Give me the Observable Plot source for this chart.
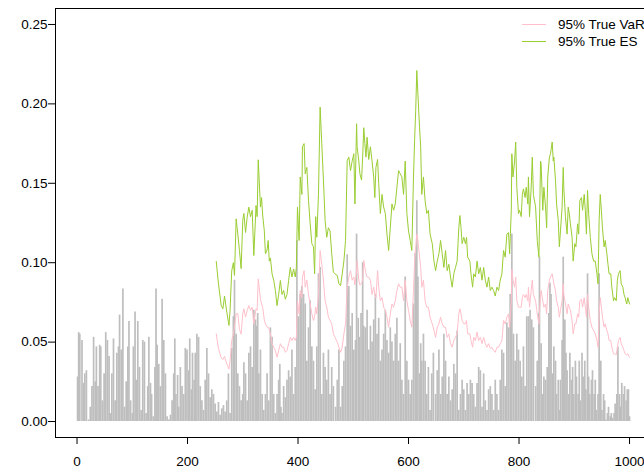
<!DOCTYPE html>
<html><head><meta charset="utf-8">
<script src="https://cdn.jsdelivr.net/npm/d3@7"></script>
<script src="https://cdn.jsdelivr.net/npm/@observablehq/plot@0.6"></script>
<style>html,body{margin:0;padding:0;background:#fff;overflow:hidden} svg{display:block;overflow:hidden}</style>
</head><body><div id="chart"></div>
<script>
// time index of each plotted loss (absolute return)
const lossIndex = [1,3,5,9,12,14,17,21,24,27,30,33,35,38,41,43,46,49,52,55,58,60,63,66,69,72,75,77,80,83,86,89,92,94,97,100,102,105,107,110,113,116,119,122,125,128,130,133,135,138,141,143,145,148,
151,154,157,160,163,166,169,172,175,177,179,182,184,187,190,193,196,199,202,204,207,209,212,214,217,220,223,226,229,232,235,238,241,244,247,250,253,256,259,262,265,268,271,274,277,280,283,285,288,291,294,297,300,302,305,308,311,314,317,320,
323,325,327,329,332,335,338,341,344,347,350,353,356,359,362,365,367,369,371,374,377,380,383,386,389,392,395,398,401,404,407,410,413,416,419,422,425,428,431,434,437,440,443,446,449,452,455,458,461,464,468,471,474,477,480,483,486,489,492,
495,498,501,504,506,509,511,514,517,519,522,525,528,531,534,537,540,543,546,549,552,555,558,561,564,567,570,573,576,579,582,585,588,591,594,597,600,603,606,609,612,615,617,620,622,624,627,630,633,636,639,642,645,649,652,655,658,661,664,
667,670,673,676,679,682,685,688,691,694,697,700,703,706,709,712,715,718,721,724,727,730,733,736,739,742,745,748,751,754,757,760,763,766,769,772,775,778,781,784,787,790,793,796,799,802,805,808,811,814,817,820,823,826,830,833,836,
837,840,843,845,848,851,854,856,858,861,863,866,868,871,873,875,878,880,883,885,887,890,892,895,897,899,902,904,907,909,911,914,916,919,921,924,926,928,931,933,936,938,940,943,945,948,950,953,955,957,960,962,965,967,969,972,974,977,979,982,984,986,989,991,994,996,998,1000];
const lossValue = [0.028,0.056,0.055,0.051,0.024,0.030,0.032,0.001,0.009,0.022,0.053,0.025,0.047,0.022,0.048,0.047,0.013,0.030,0.056,0.051,0.041,0.005,0.030,0.052,0.013,0.043,0.047,0.067,0.045,0.0835,0.009,0.025,0.047,0.063,0.013,0.005,0.047,0.069,0.026,0.063,0.034,0.007,0.051,0.050,0.005,0.022,0.053,0.024,0.017,0.003,0.034,0.0835,0.048,0.036,
0.022,0.077,0.051,0.030,0.003,0.001,0.004,0.013,0.030,0.052,0.017,0.029,0.009,0.034,0.022,0.017,0.046,0.045,0.032,0.052,0.020,0.043,0.026,0.043,0.055,0.053,0.022,0.013,0.007,0.026,0.046,0.030,0.015,0.020,0.017,0.011,0.006,0.012,0.004,0.008,0.010,0.006,0.013,0.030,0.005,0.046,0.066,0.089,0.055,0.030,0.022,0.013,0.017,0.037,0.030,0.013,0.043,0.047,0.034,0.070,
0.064,0.060,0.068,0.030,0.045,0.017,0.007,0.017,0.030,0.013,0.059,0.053,0.017,0.005,0.017,0.026,0.036,0.009,0.005,0.022,0.015,0.026,0.032,0.028,0.045,0.017,0.034,0.114,0.066,0.080,0.085,0.080,0.074,0.038,0.059,0.076,0.047,0.038,0.020,0.047,0.093,0.097,0.017,0.043,0.034,0.026,0.045,0.017,0.034,0.022,0.009,0.026,0.045,0.009,0.022,0.038,0.047,0.105,0.085,
0.060,0.068,0.045,0.051,0.118,0.065,0.053,0.068,0.100,0.060,0.059,0.070,0.045,0.060,0.050,0.064,0.080,0.055,0.065,0.038,0.045,0.055,0.070,0.051,0.043,0.059,0.050,0.038,0.055,0.065,0.038,0.049,0.026,0.017,0.091,0.038,0.026,0.017,0.026,0.074,0.106,0.139,0.091,0.030,0.049,0.038,0.055,0.038,0.017,0.034,0.007,0.030,0.043,0.017,0.032,0.045,0.017,0.028,0.055,
0.038,0.017,0.028,0.013,0.020,0.036,0.030,0.057,0.007,0.017,0.026,0.020,0.007,0.024,0.017,0.026,0.024,0.017,0.009,0.024,0.034,0.032,0.009,0.030,0.013,0.007,0.020,0.022,0.017,0.007,0.026,0.017,0.007,0.026,0.045,0.043,0.022,0.062,0.059,0.080,0.118,0.055,0.038,0.055,0.045,0.038,0.028,0.047,0.022,0.066,0.066,0.070,0.064,0.059,0.022,0.038,0.068,
0.1035,0.049,0.017,0.028,0.026,0.034,0.068,0.087,0.080,0.030,0.047,0.038,0.017,0.026,0.007,0.026,0.051,0.1035,0.064,0.043,0.032,0.017,0.043,0.026,0.034,0.017,0.038,0.028,0.017,0.038,0.013,0.043,0.028,0.038,0.020,0.093,0.028,0.017,0.026,0.032,0.017,0.026,0.007,0.017,0.093,0.038,0.007,0.017,0.013,0.001,0.005,0.009,0.003,0.005,0.002,0.005,0.011,0.017,0.047,0.017,0.009,0.024,0.017,0.022,0.013,0.020,0.020,0.003];

// time index of the risk-measure readings
const riskIndex = [252,256,261,264,267,271,275,277,280,283,285,288,291,294,297,300,302,305,308,311,314,317,320,
324,326,328,332,334,336,339,341,344,346,348,350,353,356,359,362,365,368,371,374,377,380,383,386,389,392,395,397,399,402,404,407,408,411,413,416,419,422,425,428,430,432,434,437,440,443,446,449,452,455,458,461,464,467,471,474,477,480,483,486,489,492,
495,498,501,503,506,507,510,512,515,517,519,521,523,525,528,531,534,537,539,541,544,546,549,552,555,558,561,564,567,570,573,576,579,582,585,588,591,594,597,600,603,606,609,611,613,615,617,620,622,624,627,630,633,636,639,643,646,649,652,655,658,661,664,
667,670,673,676,679,682,685,688,691,693,695,697,700,703,705,707,711,713,716,718,721,724,727,730,733,736,739,742,745,748,751,754,757,760,763,766,769,772,775,778,781,783,786,787,789,792,794,796,799,801,804,806,808,811,813,816,817,819,822,824,826,830,833,836,
839,840,843,845,848,850,852,855,857,860,862,863,866,868,871,873,875,878,880,881,884,887,889,891,893,896,898,901,903,906,908,910,913,915,918,920,922,924,926,929,932,935,938,941,943,945,947,949,951,954,956,959,961,963,966,968,971,973,976,978,980,983,985,988,990,992,995,997,1000];
const varValue = [0.0552,0.046,0.040,0.039,0.041,0.0363,0.033,0.0384,0.051,0.055,0.060,0.0678,0.068,0.058,0.055,0.0678,0.071,0.0657,0.070,0.073,0.070,0.072,0.0615,
0.071,0.070,0.0898,0.077,0.074,0.072,0.064,0.0615,0.0594,0.0594,0.058,0.0552,0.049,0.0468,0.0447,0.0405,0.0447,0.049,0.0468,0.0468,0.0436,0.0447,0.049,0.053,0.051,0.053,0.051,0.053,0.076,0.0678,0.0825,0.078,0.091,0.095,0.0846,0.089,0.080,0.074,0.0678,0.0636,0.066,0.072,0.0678,0.080,0.1077,0.099,0.089,0.076,0.072,0.0657,0.0636,0.0615,0.0552,0.053,0.050,0.0468,0.0436,0.0468,0.0552,0.0615,0.0846,0.091,
0.095,0.089,0.091,0.086,0.095,0.1014,0.089,0.086,0.087,0.089,0.1014,0.097,0.093,0.091,0.091,0.089,0.080,0.0846,0.080,0.078,0.095,0.0846,0.076,0.078,0.072,0.070,0.0657,0.0594,0.0678,0.074,0.072,0.076,0.0825,0.0867,0.0846,0.0846,0.076,0.089,0.076,0.070,0.0636,0.0594,0.0825,0.101,0.110,0.118,0.114,0.1035,0.097,0.0846,0.089,0.076,0.072,0.072,0.0657,0.0615,0.0573,0.053,0.0594,0.0615,0.0657,0.0615,0.0594,
0.0594,0.053,0.0552,0.049,0.0468,0.051,0.053,0.0552,0.0678,0.071,0.0678,0.0636,0.0615,0.0615,0.0636,0.0552,0.0552,0.051,0.0468,0.053,0.051,0.0563,0.051,0.053,0.049,0.053,0.049,0.0468,0.049,0.0458,0.0468,0.0447,0.0436,0.0468,0.0468,0.049,0.051,0.0636,0.0615,0.0657,0.0678,0.0594,0.076,0.096,0.089,0.0846,0.091,0.076,0.072,0.072,0.072,0.078,0.080,0.078,0.080,0.076,0.0846,0.072,0.0825,0.089,0.080,0.076,0.0678,0.0615,
0.080,0.0825,0.076,0.072,0.074,0.0678,0.0825,0.089,0.091,0.093,0.089,0.0867,0.0825,0.076,0.072,0.0657,0.070,0.076,0.0867,0.080,0.074,0.0678,0.074,0.072,0.070,0.0636,0.0552,0.0615,0.0615,0.0678,0.0657,0.076,0.077,0.072,0.078,0.072,0.0657,0.080,0.072,0.0636,0.0594,0.0573,0.0552,0.051,0.0468,0.0678,0.078,0.072,0.0657,0.0594,0.0615,0.0573,0.0552,0.051,0.051,0.0468,0.0426,0.0426,0.042,0.0468,0.051,0.053,0.049,0.0468,0.0447,0.0426,0.042,0.0426,0.0405];
const esValue = [0.1008,0.0867,0.073,0.071,0.079,0.069,0.0605,0.070,0.095,0.100,0.092,0.1276,0.118,0.1077,0.0963,0.1266,0.131,0.119,0.1287,0.135,0.129,0.133,0.1045,
0.136,0.129,0.1648,0.135,0.141,0.130,0.120,0.1056,0.108,0.114,0.101,0.103,0.093,0.089,0.0825,0.073,0.080,0.0888,0.080,0.0825,0.077,0.080,0.0888,0.097,0.091,0.096,0.091,0.097,0.135,0.114,0.154,0.143,0.173,0.175,0.156,0.160,0.139,0.1245,0.112,0.110,0.093,0.129,0.116,0.143,0.198,0.175,0.152,0.1266,0.116,0.122,0.120,0.1056,0.094,0.093,0.092,0.0867,0.0856,0.093,0.101,0.114,0.1644,0.1665,
0.158,0.164,0.1686,0.137,0.1875,0.173,0.164,0.156,0.152,0.1665,0.185,0.175,0.1665,0.179,0.165,0.173,0.164,0.154,0.141,0.160,0.165,0.150,0.131,0.143,0.135,0.131,0.118,0.1077,0.122,0.137,0.133,0.137,0.1475,0.158,0.156,0.154,0.143,0.164,0.131,0.120,0.114,0.1077,0.154,0.177,0.196,0.221,0.206,0.185,0.173,0.143,0.154,0.139,0.131,0.133,0.118,0.112,0.101,0.095,0.101,0.1056,0.114,0.1056,0.097,
0.1077,0.095,0.099,0.091,0.0846,0.093,0.097,0.101,0.122,0.1297,0.122,0.112,0.116,0.112,0.116,0.1035,0.101,0.093,0.0846,0.093,0.091,0.101,0.093,0.097,0.089,0.097,0.089,0.0846,0.091,0.0825,0.0846,0.0825,0.079,0.0846,0.0825,0.089,0.093,0.1077,0.1035,0.118,0.119,0.1056,0.133,0.1686,0.154,0.164,0.176,0.1475,0.131,0.133,0.129,0.143,0.1465,0.141,0.1475,0.137,0.154,0.129,0.1475,0.1665,0.143,0.135,0.114,0.1035,
0.164,0.162,0.133,0.1475,0.135,0.122,0.154,0.1665,0.1686,0.176,0.164,0.1665,0.152,0.137,0.1266,0.110,0.120,0.135,0.160,0.1475,0.129,0.118,0.135,0.131,0.1245,0.116,0.101,0.112,0.110,0.1245,0.118,0.139,0.141,0.133,0.143,0.133,0.118,0.1455,0.131,0.116,0.1056,0.101,0.101,0.093,0.0867,0.1266,0.143,0.133,0.122,0.110,0.114,0.1056,0.099,0.093,0.093,0.0846,0.076,0.078,0.076,0.089,0.093,0.095,0.0867,0.0846,0.080,0.078,0.074,0.078,0.074];

const yTicks = [0, 0.05, 0.10, 0.15, 0.20, 0.25];
const xTicks = [0, 200, 400, 600, 800, 1000];
const legendLabels = ["95% True VaR", "95% True ES"];
const colorLoss = "#bebebe", colorVaR = "#ffc0cb", colorES = "#9acd32";

const nL = Math.min(lossIndex.length, lossValue.length);
const losses = d3.range(nL).map(i => ({t: lossIndex[i], v: lossValue[i]}));
const nR = Math.min(riskIndex.length, varValue.length, esValue.length);
const risk = d3.range(nR).map(i => ({t: riskIndex[i], VaR: varValue[i], ES: esValue[i]}));

const font = "'Liberation Sans', Arial, Helvetica, sans-serif";
const chart = Plot.plot({
  width: 644, height: 468,
  marginLeft: 55, marginTop: 8, marginBottom: 31, marginRight: -7,
  style: {fontFamily: font, fontSize: "13.5px", color: "#000", background: "#fff", overflow: "hidden"},
  x: {domain: [-38.96, 1039.96], range: [55, 651.1]},
  y: {domain: [-0.01, 0.26], range: [436.9, 8.1]},
  marks: [
    Plot.ruleX(losses, {x: "t", y1: 0, y2: "v", stroke: colorLoss, strokeWidth: 1.7}),
    Plot.line(risk, {x: "t", y: "VaR", stroke: colorVaR, strokeWidth: 1}),
    Plot.line(risk, {x: "t", y: "ES", stroke: colorES, strokeWidth: 1}),
    Plot.axisY(yTicks, {anchor: "left", tickFormat: d3.format(".2f"), tickSize: 7, tickPadding: 1, fontSize: 13.5, label: null}),
    Plot.axisX(xTicks, {anchor: "bottom", tickFormat: d3.format("d"), tickSize: 7, tickPadding: 12, fontSize: 13.5, label: null}),
    Plot.frame({stroke: "#000"})
  ]
});
document.getElementById("chart").appendChild(chart);

// legend inside the top-right corner of the plot region
const lg = d3.select(chart).append("g")
  .attr("font-family", font).attr("font-size", 13.5).attr("text-anchor", "start");
[colorVaR, colorES].forEach((c, i) => {
  const y = 24.5 + i * 17;
  lg.append("line").attr("x1", 522).attr("x2", 546).attr("y1", y).attr("y2", y)
    .attr("stroke", c).attr("stroke-width", 1);
  lg.append("text").attr("x", 558).attr("y", y).attr("dy", "0.35em")
    .attr("fill", "#000").attr("text-anchor", "start").text(legendLabels[i]);
});
</script>
</body></html>
